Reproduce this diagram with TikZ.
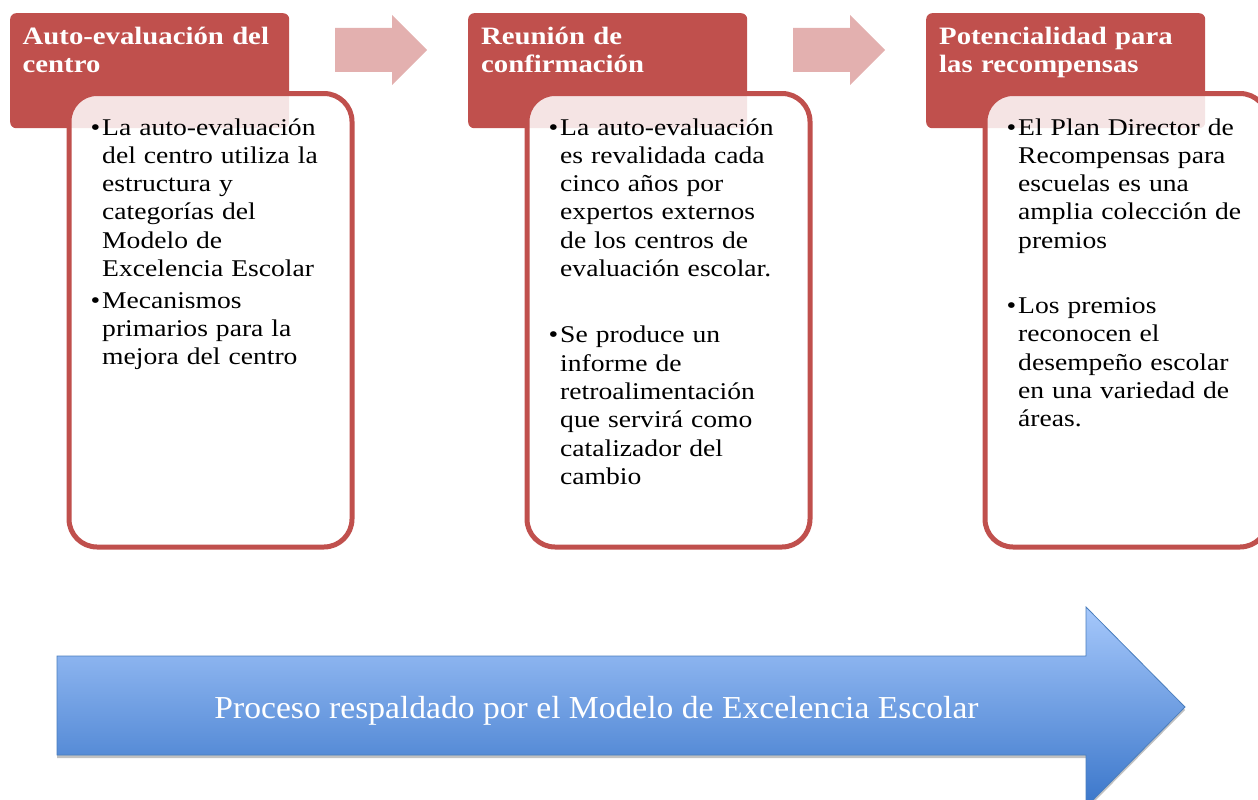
\documentclass[tikz,border=0pt]{standalone}
\usepackage{fontspec}
\setmainfont{Liberation Serif}[FakeStretch=1.15]
\newfontfamily\bandfont{Liberation Serif}[FakeStretch=1.05]
\usetikzlibrary{positioning,shadows}
\definecolor{boxred}{HTML}{C0504D}
\definecolor{bandtop}{HTML}{A6C8FB}
\definecolor{bandbottom}{HTML}{3A76CA}
\definecolor{bandline}{HTML}{4A7EBD}
\newcommand{\itembullet}{\leavevmode\llap{\textbullet\hspace{2pt}}}

\begin{document}
\begin{tikzpicture}
[x=1pt,y=-1pt,
  headdecorate/.style={shape=rectangle,rounded corners=6pt,fill=boxred,
    minimum width=279pt,minimum height=115pt,inner sep=0pt,anchor=north west},%
  boxdecorate/.style={shape=rectangle,rounded corners=28pt,draw=boxred,
    line width=5pt,fill=white,fill opacity=0.85,minimum width=283pt,
    minimum height=453.5pt,inner sep=0pt,anchor=north west},%
  headtextdecorate/.style={anchor=base west,inner sep=0pt,align=left,
    text width=265pt,text=white,font=\fontsize{25}{28}\selectfont\bfseries},%
  bodytextdecorate/.style={anchor=base west,inner sep=0pt,align=left,
    text width=245pt,text=black,font=\fontsize{24}{28.3}\selectfont},%
  pinkarrowdecorate/.style={fill=boxred!45},%
  bandarrowdecorate/.style={top color=bandtop,bottom color=bandbottom,
    draw=bandline,line width=0.8pt,
    drop shadow={shadow xshift=0pt,shadow yshift=-3pt,opacity=0.35,fill=black!70}},%
  bandtextdecorate/.style={anchor=base,inner sep=0pt,text=white,
    font=\bandfont\fontsize{32}{36}\selectfont}]
\useasboundingbox (0,0) rectangle (1258,800);
%% small arrows between the steps
\foreach \xpos in {0,458}
{
  \fill[pinkarrowdecorate] (335+\xpos,28) -- (392+\xpos,28) -- (392+\xpos,15)
    -- (427+\xpos,50) -- (392+\xpos,85) -- (392+\xpos,72) -- (335+\xpos,72) -- cycle;
}
%% headers and boxes
\foreach \stepname/\xpos in {1/0, 2/458, 3/916}
{
  \node (head\stepname) [headdecorate] at (10+\xpos,13) {};
  \node (box\stepname) [boxdecorate] at (66.5+\xpos,91) {};
}
%% header texts
\node (headtext1) [headtextdecorate] at ([xshift=12.5pt,yshift=-32pt]head1.north west)
  {Auto-evaluación del\\centro};
\node (headtext2) [headtextdecorate] at ([xshift=13pt,yshift=-32pt]head2.north west)
  {Reunión de\\confirmación};
\node (headtext3) [headtextdecorate] at ([xshift=13pt,yshift=-32pt]head3.north west)
  {Potencialidad para\\las recompensas};
%% box texts
\node (bodytext1) [bodytextdecorate] at ([xshift=35.5pt,yshift=-44pt]box1.north west)
  {\itembullet La auto-evaluación\\del centro utiliza la\\estructura y\\
   categorías del\\Modelo de\\Excelencia Escolar\\[3.5pt]
   \itembullet Mecanismos\\primarios para la\\mejora del centro};
\node (bodytext2) [bodytextdecorate] at ([xshift=35.5pt,yshift=-44pt]box2.north west)
  {\itembullet La auto-evaluación\\es revalidada cada\\cinco años por\\
   expertos externos\\de los centros de\\evaluación escolar.\\[38pt]
   \itembullet Se produce un\\informe de\\retroalimentación\\
   que servirá como\\catalizador del\\cambio};
\node (bodytext3) [bodytextdecorate] at ([xshift=35.5pt,yshift=-44pt]box3.north west)
  {\itembullet El Plan Director de\\Recompensas para\\escuelas es una\\
   amplia colección de\\premios\\[37pt]
   \itembullet Los premios\\reconocen el\\desempeño escolar\\
   en una variedad de\\áreas.};
%% big arrow at the bottom
\path[bandarrowdecorate] (57,656) -- (1086,656) -- (1086,607) -- (1185,707)
  -- (1086,807) -- (1086,755) -- (57,755) -- cycle;
\node (bandtext) [bandtextdecorate] at (596.5,718)
  {Proceso respaldado por el Modelo de Excelencia Escolar};
\end{tikzpicture}
\end{document}
